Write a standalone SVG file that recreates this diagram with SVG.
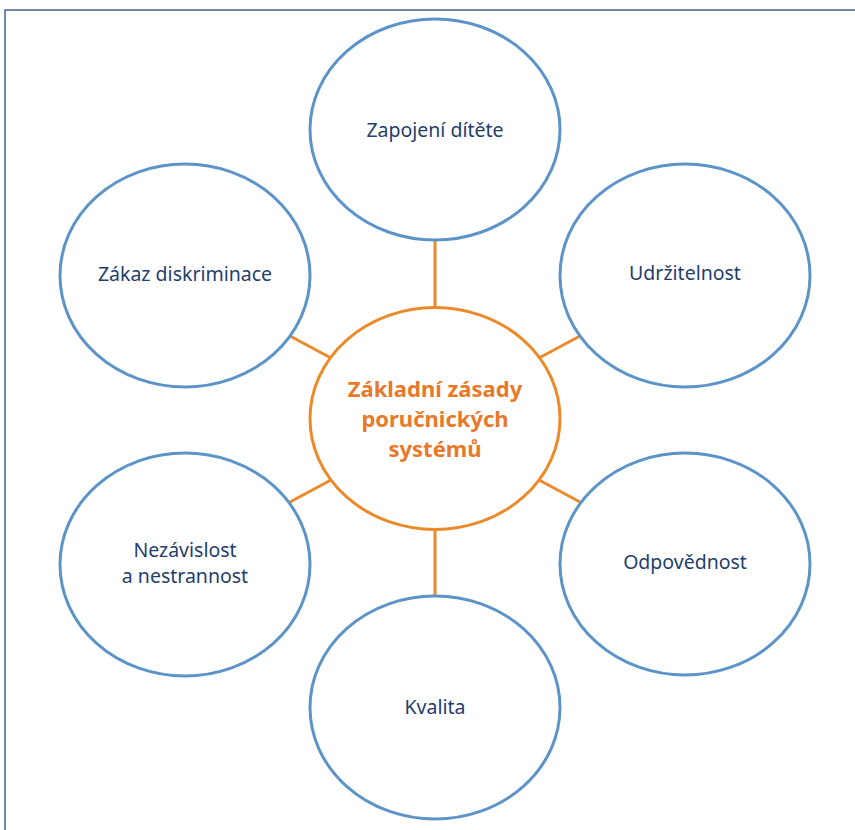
<svg xmlns="http://www.w3.org/2000/svg" width="855" height="830" viewBox="0 0 855 830">
<style>
.frame{fill:none;stroke:#41628f;stroke-width:1.5}
.node ellipse{fill:#fff;stroke:#5d94c8;stroke-width:3}
.node text{font-family:"Noto Sans","Open Sans","Liberation Sans",sans-serif;font-size:19.5px;fill:#1f3e6c;text-anchor:middle}
#center ellipse{fill:#fff;stroke:#ec8a2a;stroke-width:3}
#center text{font-family:"Noto Sans","Open Sans","Liberation Sans",sans-serif;font-size:22px;font-weight:bold;fill:#e8782a;text-anchor:middle}
.conn line{stroke:#ec8a2a;stroke-width:3}
</style>
<rect width="855" height="830" fill="#fff"/>
<path class="frame" d="M855,10 H5 V830"/>
<g class="conn">
<line x1="435" y1="240" x2="435" y2="308"/>
<line x1="435" y1="529" x2="435" y2="596"/>
<line x1="290" y1="336" x2="331" y2="358"/>
<line x1="580" y1="336" x2="539" y2="358"/>
<line x1="290" y1="502" x2="331" y2="480"/>
<line x1="580" y1="502" x2="539" y2="480"/>
</g>
<g id="center">
<ellipse cx="435" cy="418.5" rx="125" ry="111"/>
<text x="435" y="397">Základní zásady</text>
<text x="435" y="427">poručnických</text>
<text x="435" y="457">systémů</text>
</g>
<g id="n-zapojeni" class="node">
<ellipse cx="435" cy="129.5" rx="125" ry="110.5"/>
<text x="435" y="137">Zapojení dítěte</text>
</g>
<g id="n-zakaz" class="node">
<ellipse cx="185" cy="275.5" rx="125" ry="111.5"/>
<text x="185" y="281">Zákaz diskriminace</text>
</g>
<g id="n-udrzitelnost" class="node">
<ellipse cx="685" cy="275.5" rx="125" ry="111.5"/>
<text x="685" y="280">Udržitelnost</text>
</g>
<g id="n-nezavislost" class="node">
<ellipse cx="185" cy="564.5" rx="125" ry="111.5"/>
<text x="185" y="557">Nezávislost</text>
<text x="185" y="583">a nestrannost</text>
</g>
<g id="n-odpovednost" class="node">
<ellipse cx="685" cy="564" rx="125" ry="111"/>
<text x="685" y="569">Odpovědnost</text>
</g>
<g id="n-kvalita" class="node">
<ellipse cx="435" cy="707.5" rx="125" ry="111.5"/>
<text x="435" y="714">Kvalita</text>
</g>
</svg>
